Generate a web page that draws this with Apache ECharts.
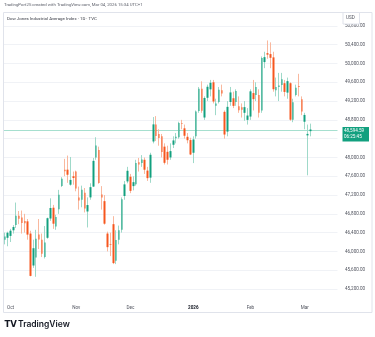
<!DOCTYPE html>
<html><head><meta charset="utf-8">
<script src="https://cdn.jsdelivr.net/npm/echarts@6/dist/echarts.min.js"></script>
<style>html,body{margin:0;padding:0;background:#fff}#c{width:375px;height:337px}</style>
</head><body><div id="c"></div>
<script>
// trading days per month
const tradingDays = {
  '2025-09': [29,30],
  '2025-10': [1,2,3,6,7,8,9,10,13,14,15,16,17,20,21,22,23,24,27,28,29,30,31],
  '2025-11': [3,4,5,6,7,10,11,12,13,14,17,18,19,20,21,24,25,26,28],
  '2025-12': [1,2,3,4,5,8,9,10,11,12,15,16,17,18,19,22,23,24,26,29,30,31],
  '2026-01': [2,5,6,7,8,9,12,13,14,15,16,20,21,22,23,26,27,28,29,30],
  '2026-02': [2,3,4,5,6,9,10,11,12,13,17,18,19,20,23,24,25,26,27],
  '2026-03': [2,3,4]
};
const monthTicks = {'2025-10-01':'Oct','2025-11-03':'Nov','2025-12-01':'Dec','2026-01-02':'2026','2026-02-02':'Feb','2026-03-02':'Mar'};

const open = [
46250,46290,46330,46450,46560,46760,46720,46650,46640,46380,
45700,45870,46360,46250,45880,46290,46700,46930,46530,46900,
47390,47740,47740,47420,47600,47700,47150,47100,47250,46850,
47150,47380,48000,48160,47210,47070,46380,46150,46580,45800,
46250,46460,47180,47490,47590,47390,47430,47900,47880,47950,
47720,47570,48340,48700,48500,48450,48230,48120,48000,48270,
48410,48430,48730,48620,48440,48370,48100,48450,48990,49460,
48850,49270,49450,49600,49100,49180,49430,48970,48550,49180,
49260,49180,49090,49070,48950,48800,48870,49370,49330,49330,
49000,50030,50220,50200,50130,49430,49500,49540,49580,49380,
49580,48800,49330,49520,49240,48760,48470,48560
];
const close = [
46316,46397,46441,46519,46758,46694,46603,46602,46358,45479,
46068,46270,46253,45952,46191,46707,46924,46590,46735,47207,
47545,47706,47632,47522,47563,47337,47085,47311,46912,46987,
47368,47927,48254,47457,47147,46590,46091,46138,45752,46245,
46448,47112,47427,47716,47289,47474,47882,47851,47955,47739,
47560,48057,48704,48458,48416,48114,47886,47951,48135,48362,
48442,48731,48711,48462,48367,48063,48382,48977,49462,48996,
49266,49504,49590,49191,49149,49442,49359,48488,49077,49384,
49098,49412,49003,49015,49071,48892,49407,49241,49501,48950,
50115,50135,50188,50121,49452,49500,49533,49662,49395,49625,
48804,49174,49482,49499,48978,48905,48501,48594.59
];
const high = [
46400,46420,46480,46560,47040,46860,46870,46800,46690,46440,
46250,46460,46690,46380,46540,46720,47130,46990,46780,47310,
47580,47970,48040,48010,47700,47720,47380,47400,47350,47150,
47450,47990,48430,48230,47390,47200,46420,46400,46750,46450,
46550,47150,47500,47800,47650,47600,47950,47990,48050,48000,
47800,48100,48860,48880,48600,48500,48300,48250,48300,48450,
48520,48760,48800,48700,48520,48420,48450,49000,49500,49620,
49300,49550,49650,49650,49250,49500,49550,49000,49200,49500,
49400,49450,49300,49150,49200,49050,49450,49650,49600,49450,
50150,50250,50490,50450,50250,49700,49800,49800,49650,49700,
49600,49250,49550,49780,49300,48950,48700,48720
];
const low = [
46150,46110,46200,46380,46500,46580,46380,46400,46250,45470,
45650,45460,46050,45880,45850,46270,46650,46480,46460,46800,
47370,47600,47460,47400,47420,47280,46890,46940,46830,46510,
47100,47370,47950,47440,46890,46570,46000,45900,45730,45730,
46150,46400,47100,47450,47240,47300,47400,47700,47800,47650,
47500,47460,48300,48350,48250,48000,47850,47850,47950,48200,
48300,48400,48600,48400,48300,48050,47880,48400,48950,48950,
48800,49200,49300,49150,48900,49150,49300,48400,48450,49100,
49050,49100,48950,48850,48780,48700,48800,49000,49200,48850,
48950,49900,50100,49900,49400,49300,49200,49400,49300,49250,
48780,48750,49300,49300,48900,48600,47620,48450
];
const yTickMin = 44800, yTickMax = 50800, yTickStep = 400;
const lastPrice = 48594.59;
const countdown = '06:25:45';

// build categories
const dates = [];
Object.keys(tradingDays).forEach(m => tradingDays[m].forEach(d => dates.push(m + '-' + String(d).padStart(2,'0'))));
const cats = dates.slice();
for (let k = 0; k < 9; k++) cats.push('pad' + k);

const wickData = dates.map((d,i) => [open[i], close[i], low[i], high[i]]);
const bodyData = dates.map((d,i) => [open[i], close[i], Math.min(open[i],close[i]), Math.max(open[i],close[i])]);

const UP = '#12a07f', DOWN = '#f6561e', UPW = '#9fd9c9', DOWNW = '#f9b89e', PRICE_LINE = '#a6dfcf';
const FONT = 'Roboto';
const gridLeft = 3.36, gridW = 117 * 2.856;
const splitColors = [];
for (let v = yTickMin; v <= yTickMax; v += yTickStep) splitColors.push(v < 45000 ? 'rgba(0,0,0,0)' : '#f0f2f6');

const chart = echarts.init(document.getElementById('c'), null, {renderer: 'canvas'});
chart.setOption({
  animation: false,
  backgroundColor: '#fff',
  textStyle: {fontFamily: FONT},
  grid: [
    {left: gridLeft, width: gridW, top: 25.9, height: 281.9},
    {left: gridLeft, width: gridW, top: 25.9, height: 276}
  ],
  xAxis: [
    {type: 'category', gridIndex: 0, data: cats, boundaryGap: true,
     axisLine: {show: false}, axisTick: {show: false}, axisLabel: {show: false}, splitLine: {show: false}},
    {type: 'category', gridIndex: 1, data: cats, boundaryGap: true,
     axisLine: {show: false}, axisTick: {show: false},
     splitLine: {show: false},
     axisLabel: {show: true, interval: (i, v) => v in monthTicks, margin: 3,
       formatter: v => monthTicks[v] === '2026' ? '{b|2026}' : (monthTicks[v] || ''),
       color: '#50535e', fontSize: 4.6, fontFamily: FONT,
       rich: {b: {fontWeight: 'bold', color: '#131722', fontSize: 4.6, fontFamily: FONT}}}}
  ],
  yAxis: [
    {type: 'value', gridIndex: 0, position: 'right', min: yTickMin, max: yTickMax, interval: yTickStep,
     axisLine: {show: false}, axisTick: {show: false},
     splitLine: {show: true, lineStyle: {color: splitColors, width: 1}},
     axisLabel: {margin: 7.5, color: '#50535e', fontSize: 4.6, fontFamily: FONT, align: 'left',
       formatter: v => v < 45000 ? '' : v.toLocaleString('en-US', {minimumFractionDigits: 2, maximumFractionDigits: 2})}},
    {type: 'value', gridIndex: 1, show: false, min: 0, max: 1}
  ],
  series: [
    {type: 'candlestick', name: 'wick', xAxisIndex: 0, yAxisIndex: 0, data: wickData, barWidth: 1, z: 2,
     itemStyle: {color: UPW, color0: DOWNW, borderColor: UPW, borderColor0: DOWNW, borderWidth: 1}},
    {type: 'candlestick', name: 'body', xAxisIndex: 0, yAxisIndex: 0, data: bodyData, barWidth: 2, z: 3,
     itemStyle: {color: UP, color0: DOWN, borderColor: UP, borderColor0: DOWN, borderWidth: 0}}
  ]
});

// last-price line and tag positioned through the library's value scale
const py = Math.round(chart.convertToPixel({yAxisIndex: 0}, lastPrice)) + 0.5;
const priceText = lastPrice.toLocaleString('en-US', {minimumFractionDigits: 2});
chart.setOption({
  graphic: [
    {type: 'line', z: 1, shape: {x1: gridLeft, y1: py, x2: gridLeft + gridW, y2: py}, style: {stroke: PRICE_LINE, lineWidth: 1}},
    {type: 'rect', z: 110, shape: {x: 342.5, y: py - 3.5, width: 26.5, height: 14.5}, style: {fill: '#12a07f'}},
    {type: 'text', z: 111, x: 344, y: py - 2.4, style: {text: priceText, fontSize: 4.6, fill: '#ffffff', fontFamily: FONT}},
    {type: 'text', z: 111, x: 344, y: py + 3.6, style: {text: countdown, fontSize: 4.6, fill: '#ffffff', fontFamily: FONT}},
    {type: 'rect', shape: {x: 3.5, y: 12.5, width: 368.5, height: 300}, style: {fill: 'none', stroke: '#e0e3eb', lineWidth: 1}, z: 100},
    {type: 'rect', shape: {x: 343, y: 12.5, width: 16.5, height: 11.5}, style: {fill: '#fff', stroke: '#e0e3eb', lineWidth: 1}, z: 100},
    {type: 'text', x: 346, y: 15.5, style: {text: 'USD', fontSize: 4.6, fill: '#50535e', fontFamily: FONT}, z: 101},
    {type: 'text', x: 4, y: 2.5, style: {text: 'TradingPort25 created with TradingView.com, Mar 04, 2026 15:34 UTC+1', fontSize: 4.3, fill: '#5d606b', fontFamily: FONT}, z: 101},
    {type: 'text', x: 7, y: 16.5, style: {text: 'Dow Jones Industrial Average Index · 1D · TVC', fontSize: 4.4, fill: '#3a3d47', fontFamily: FONT}, z: 101},
    {type: 'text', x: 4.5, y: 320, style: {text: 'TV', fontSize: 8.5, fontWeight: 900, fill: '#131722', fontFamily: 'DejaVu Sans'}, z: 101},
    {type: 'text', x: 18, y: 320, style: {text: 'TradingView', fontSize: 8.5, fontWeight: 600, fill: '#131722', fontFamily: 'Inter'}, z: 101}
  ]
});
</script></body></html>
